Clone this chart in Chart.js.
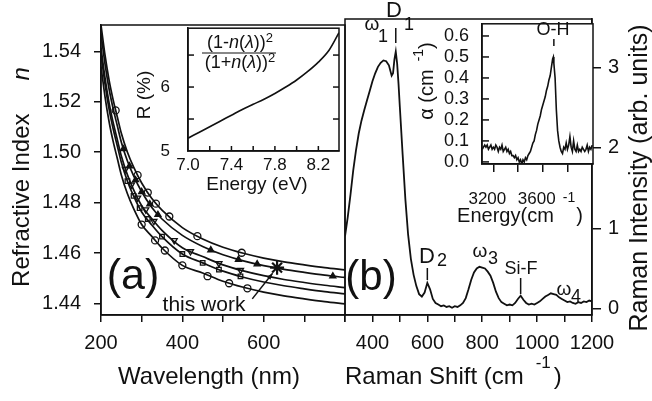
<!DOCTYPE html>
<html>
<head>
<meta charset="utf-8">
<script src="https://cdn.jsdelivr.net/npm/chart.js@4.4.1/dist/chart.umd.min.js"></script>
<style>
  html, body { margin: 0; padding: 0; background: #fff; }
  #wrap { position: relative; width: 652px; height: 401px; }
  canvas { position: absolute; left: 0; top: 0; }
</style>
</head>
<body>
<div id="wrap">
  <canvas id="panelA" width="652" height="401"></canvas>
  <canvas id="panelB" width="652" height="401"></canvas>
  <canvas id="insetA" width="652" height="401"></canvas>
  <canvas id="insetB" width="652" height="401"></canvas>
</div>
<script>
// ---- panel (a): refractive index vs wavelength ----
const wavelength = [200, 210, 220, 230, 240, 250, 265, 280, 300, 325, 350, 400, 450, 500, 550, 600, 650, 700, 750, 800];
const nCurve1 = [1.5505, 1.5384, 1.5285, 1.5207, 1.5141, 1.5075, 1.5000, 1.4942, 1.4878, 1.4816, 1.4770, 1.4701, 1.4656, 1.4623, 1.4599, 1.4580, 1.4565, 1.4553, 1.4542, 1.4533];
const nCurve2 = [1.5470, 1.5349, 1.5250, 1.5172, 1.5106, 1.5040, 1.4965, 1.4907, 1.4843, 1.4781, 1.4735, 1.4670, 1.4626, 1.4593, 1.4569, 1.4550, 1.4535, 1.4523, 1.4512, 1.4503];
const nCurve3 = [1.5415, 1.5294, 1.5195, 1.5117, 1.5051, 1.4985, 1.4910, 1.4852, 1.4788, 1.4736, 1.4690, 1.4621, 1.4586, 1.4553, 1.4529, 1.4510, 1.4495, 1.4483, 1.4472, 1.4463];
const nCurve4 = [1.5390, 1.5269, 1.5170, 1.5092, 1.5026, 1.4960, 1.4885, 1.4827, 1.4763, 1.4711, 1.4665, 1.4596, 1.4561, 1.4528, 1.4504, 1.4485, 1.4470, 1.4458, 1.4447, 1.4438];
const nCurve5 = [1.5340, 1.5219, 1.5120, 1.5042, 1.4976, 1.4910, 1.4835, 1.4777, 1.4713, 1.4666, 1.4620, 1.4551, 1.4521, 1.4488, 1.4464, 1.4445, 1.4430, 1.4418, 1.4407, 1.4398];

const circleTopWl = [236, 290, 315, 335, 368, 437, 546];
const circleTopN = [1.5166, 1.4909, 1.4840, 1.4796, 1.4745, 1.4667, 1.4601];
const triUpWl = [255, 270, 285, 300, 320, 340, 470, 538, 584, 770];
const triUpN = [1.5013, 1.4945, 1.4890, 1.4843, 1.4794, 1.4752, 1.4612, 1.4574, 1.4556, 1.4508];
const triDownWl = [260, 275, 290, 310, 330, 380, 420, 490, 543];
const triDownN = [1.4933, 1.4871, 1.4819, 1.4772, 1.4726, 1.4650, 1.4606, 1.4559, 1.4532];
const squareWl = [265, 280, 295, 315, 350, 400, 450, 490, 543];
const squareN = [1.4885, 1.4827, 1.4778, 1.4735, 1.4665, 1.4596, 1.4561, 1.4534, 1.4507];
const circleLowWl = [300, 333, 357, 400, 462, 515, 560];
const circleLowN = [1.4713, 1.4650, 1.4610, 1.4551, 1.4508, 1.4480, 1.4460];
const thisWorkWl = [633];
const thisWorkN = [1.4542];
const arrowFrom = [572, 1.4418];
const arrowTo = [622, 1.4520];

const wlTicks = [200, 300, 400, 500, 600, 700, 800];
const wlLabels = [200, 400, 600];
const nTicks = [1.44, 1.46, 1.48, 1.50, 1.52, 1.54];

// ---- inset (a): reflectance ----
const energyEv = [7.0, 7.1, 7.2, 7.3, 7.4, 7.5, 7.6, 7.7, 7.8, 7.9, 8.0, 8.1, 8.2, 8.3, 8.39];
const reflect = [5.20, 5.29, 5.38, 5.47, 5.56, 5.65, 5.73, 5.81, 5.90, 6.00, 6.11, 6.24, 6.39, 6.58, 6.85];
const evTicks = [7.0, 7.2, 7.4, 7.6, 7.8, 8.0, 8.2];
const evLabels = [7.0, 7.4, 7.8, 8.2];
const rTicks = [5, 5.5, 6, 6.5];
const rLabels = [5, 6];

// ---- panel (b): Raman spectrum ----
const ramanShift = [300, 310, 320, 330, 340, 350, 360, 370, 380, 390, 400, 410, 420, 430, 440, 450, 460, 470, 475, 480, 485, 490, 495, 500,
  510, 520, 530, 540, 550, 560, 570, 580, 590, 600, 610, 620, 630, 640, 650, 660, 670, 680, 690, 700, 710, 720, 730, 740, 750,
  760, 770, 780, 790, 800, 810, 820, 830, 840, 850, 860, 870, 880, 890, 900, 910, 920, 930, 940, 950, 960, 970, 980, 990, 1000,
  1010, 1020, 1030, 1040, 1050, 1060, 1070, 1080, 1090, 1100, 1110, 1120, 1130, 1140, 1150, 1160, 1170, 1180, 1190, 1200];
const ramanIntensity = [0.90, 1.14, 1.42, 1.72, 1.97, 2.18, 2.34, 2.47, 2.59, 2.71, 2.83, 2.93, 3.01, 3.06, 3.09, 3.08, 3.03, 2.90, 2.93, 3.10, 3.20, 3.05, 2.80, 2.50,
  1.92, 1.36, 0.92, 0.62, 0.42, 0.28, 0.18, 0.15, 0.20, 0.32, 0.24, 0.12, 0.07, 0.05, 0.03, 0.04, 0.02, 0.03, 0.01, 0.03, 0.02, 0.04, 0.07, 0.13, 0.24,
  0.36, 0.45, 0.50, 0.52, 0.51, 0.50, 0.46, 0.41, 0.32, 0.21, 0.13, 0.08, 0.06, 0.04, 0.05, 0.04, 0.07, 0.12, 0.16, 0.11, 0.07, 0.05, 0.06, 0.05, 0.07,
  0.09, 0.12, 0.15, 0.17, 0.19, 0.18, 0.17, 0.14, 0.12, 0.10, 0.08, 0.09, 0.07, 0.06, 0.08, 0.07, 0.09, 0.08, 0.10, 0.09];
const shiftTicks = [300, 400, 500, 600, 700, 800, 900, 1000, 1100, 1200];
const shiftLabels = [400, 600, 800, 1000, 1200];
const intensityTicks = [0, 1, 2, 3];
const peakMarks = [{ shift: 485, top: 28, bottom: 43 }, { shift: 600, top: 268, bottom: 280 }, { shift: 940, top: 278, bottom: 294 }];

// ---- inset (b): O-H absorption ----
const waveNumber = [3110, 3120, 3130, 3140, 3150, 3160, 3170, 3180, 3190, 3200, 3210, 3220, 3230, 3240, 3250, 3260, 3270, 3280, 3290, 3300,
  3310, 3320, 3330, 3340, 3350, 3360, 3370, 3380, 3390, 3400, 3410, 3420, 3430, 3440, 3450, 3460, 3470, 3480, 3490, 3500,
  3510, 3520, 3530, 3540, 3550, 3560, 3570, 3580, 3590, 3600, 3610, 3620, 3630, 3640, 3650, 3660, 3670, 3680, 3686, 3690, 3700,
  3710, 3720, 3730, 3740, 3750, 3760, 3770, 3780, 3790, 3800, 3810, 3820, 3830, 3840, 3850, 3860, 3870, 3880, 3890, 3900,
  3910, 3920, 3930, 3940, 3950, 3960, 3970, 3980, 3990, 4000];
const absorption = [0.06, 0.07, 0.08, 0.07, 0.08, 0.06, 0.07, 0.08, 0.06, 0.07, 0.06, 0.08, 0.07, 0.05, 0.07, 0.06, 0.08, 0.05, 0.06, 0.07,
  0.05, 0.06, 0.04, 0.05, 0.03, 0.03, 0.02, 0.03, 0.01, 0.02, 0.00, 0.01, -0.01, 0.01, 0.00, 0.02, 0.01, 0.03, 0.04, 0.05,
  0.07, 0.09, 0.10, 0.13, 0.15, 0.18, 0.20, 0.22, 0.25, 0.27, 0.29, 0.31, 0.34, 0.36, 0.39, 0.41, 0.45, 0.49, 0.50, 0.47, 0.40,
  0.25, 0.15, 0.10, 0.07, 0.05, 0.04, 0.07, 0.06, 0.09, 0.06, 0.08, 0.12, 0.07, 0.05, 0.10, 0.06, 0.05, 0.08, 0.05, 0.06,
  0.05, 0.07, 0.06, 0.05, 0.06, 0.08, 0.05, 0.07, 0.06, 0.08];
const wnTicks = [3200, 3400, 3600, 3800];
const wnLabels = [3200, 3600];
const alphaTicks = [0, 0.1, 0.2, 0.3, 0.4, 0.5, 0.6];

// ---- helpers ----
const INK = '#111';
const FAMILY = '"Liberation Sans", Arial, Helvetica, sans-serif';
const fnt = (size, style) => `${style || ''} ${size}px ${FAMILY}`.trim();
const R = (t, size, style, dy) => ({ t, f: fnt(size, style), dy: dy || 0 });
const GAP = w => ({ gap: w });
const pts = (xs, ys) => xs.map((x, i) => ({ x, y: ys[i] }));

function drawRuns(ctx, it) {
  ctx.save();
  ctx.translate(it.x, it.y);
  if (it.rot) ctx.rotate(it.rot);
  ctx.fillStyle = INK;
  ctx.textBaseline = 'middle';
  ctx.textAlign = 'left';
  let total = 0;
  it.runs.forEach(r => {
    if (r.t) { ctx.font = r.f; r.w = ctx.measureText(r.t).width; } else r.w = r.gap;
    total += r.w;
  });
  let x = it.align === 'left' ? 0 : -total / 2;
  it.runs.forEach(r => {
    if (r.t) { ctx.font = r.f; ctx.fillText(r.t, x, r.dy); }
    x += r.w;
  });
  ctx.restore();
}

const textPlugin = items => ({
  id: 'texts',
  afterDraw(chart) { items.forEach(it => drawRuns(chart.ctx, it)); }
});

const framePlugin = fill => ({
  id: 'frame',
  beforeDraw(chart) {
    if (!fill) return;
    const a = chart.chartArea;
    chart.ctx.save();
    chart.ctx.fillStyle = '#fff';
    chart.ctx.fillRect(a.left, a.top, a.right - a.left, a.bottom - a.top);
    chart.ctx.restore();
  },
  afterDraw(chart) {
    const a = chart.chartArea, ctx = chart.ctx;
    ctx.save();
    ctx.strokeStyle = INK;
    ctx.lineWidth = 1.5;
    ctx.strokeRect(a.left, a.top, a.right - a.left, a.bottom - a.top);
    ctx.restore();
  }
});

const inwardTicks = specs => ({
  id: 'inwardTicks',
  afterDraw(chart) {
    const { ctx, chartArea: a, scales } = chart;
    ctx.save();
    ctx.strokeStyle = INK;
    ctx.lineWidth = 1.5;
    specs.forEach(sp => {
      const sc = scales[sp.axis];
      sp.values.forEach(v => {
        const p = sc.getPixelForValue(v);
        ctx.beginPath();
        if (sp.side === 'left') { ctx.moveTo(a.left, p); ctx.lineTo(a.left + sp.len, p); }
        if (sp.side === 'right') { ctx.moveTo(a.right, p); ctx.lineTo(a.right - sp.len, p); }
        if (sp.side === 'bottom') { ctx.moveTo(p, a.bottom); ctx.lineTo(p, a.bottom - sp.len); }
        ctx.stroke();
      });
    });
    ctx.restore();
  }
});

function axis(opts) {
  return {
    type: 'linear',
    min: opts.min, max: opts.max,
    position: opts.position,
    afterFit: s => { if (opts.width != null) s.width = opts.width; if (opts.height != null) s.height = opts.height; },
    afterBuildTicks: s => { s.ticks = opts.ticks.map(v => ({ value: v })); },
    ticks: {
      autoSkip: false, maxRotation: 0, color: INK,
      padding: opts.padding, labelOffset: opts.labelOffset || 0,
      font: { family: FAMILY, size: opts.fontSize },
      callback: v => opts.labels.includes(v) ? opts.fmt(v) : ''
    },
    grid: { display: true, drawOnChartArea: false, drawTicks: opts.tickLength > 0, tickLength: opts.tickLength, color: INK, lineWidth: 1.5 },
    border: { display: true, color: INK, width: 1.5 }
  };
}

const lineSet = (xs, ys, w, smooth) => ({
  data: pts(xs, ys), borderColor: INK, borderWidth: w, pointRadius: 0,
  cubicInterpolationMode: smooth ? 'monotone' : 'default', tension: 0, fill: false
});
const markSet = (xs, ys, style, filled, radius, rot) => ({
  data: pts(xs, ys), showLine: false, pointStyle: style, pointRadius: radius,
  pointRotation: rot || 0, pointBorderColor: INK, pointBorderWidth: 1.3,
  pointBackgroundColor: filled ? INK : 'rgba(255,255,255,0)'
});

const base = padding => ({
  responsive: false, animation: false, devicePixelRatio: 1,
  layout: { padding },
  plugins: { legend: { display: false }, tooltip: { enabled: false } }
});

// ---- panel (a) ----
const arrowPlugin = {
  id: 'arrow',
  afterDraw(chart) {
    const { ctx, scales: { x, y } } = chart;
    const x1 = x.getPixelForValue(arrowFrom[0]), y1 = y.getPixelForValue(arrowFrom[1]);
    const x2 = x.getPixelForValue(arrowTo[0]), y2 = y.getPixelForValue(arrowTo[1]);
    const ang = Math.atan2(y2 - y1, x2 - x1);
    ctx.save();
    ctx.strokeStyle = INK; ctx.fillStyle = INK; ctx.lineWidth = 1.5;
    ctx.beginPath(); ctx.moveTo(x1, y1); ctx.lineTo(x2, y2); ctx.stroke();
    ctx.beginPath();
    ctx.moveTo(x2, y2);
    ctx.lineTo(x2 - 7 * Math.cos(ang - 0.35), y2 - 7 * Math.sin(ang - 0.35));
    ctx.lineTo(x2 - 7 * Math.cos(ang + 0.35), y2 - 7 * Math.sin(ang + 0.35));
    ctx.closePath(); ctx.fill();
    ctx.restore();
  }
};

new Chart(document.getElementById('panelA'), {
  type: 'line',
  data: {
    datasets: [
      lineSet(wavelength, nCurve1, 1.7, true),
      lineSet(wavelength, nCurve2, 1.7, true),
      lineSet(wavelength, nCurve3, 1.7, true),
      lineSet(wavelength, nCurve4, 1.7, true),
      lineSet(wavelength, nCurve5, 1.7, true),
      markSet(circleTopWl, circleTopN, 'circle', false, 3.5),
      markSet(triUpWl, triUpN, 'triangle', true, 3.5),
      markSet(triDownWl, triDownN, 'triangle', false, 3.5, 180),
      markSet(squareWl, squareN, 'rect', false, 3.2),
      markSet(circleLowWl, circleLowN, 'circle', false, 3.5),
      { data: pts(thisWorkWl, thisWorkN), showLine: false, pointStyle: 'star', pointRadius: 7, pointBorderColor: INK, pointBorderWidth: 2.2 }
    ]
  },
  options: Object.assign(base({ left: 0, top: 9, right: 307, bottom: 0 }), {
    scales: {
      x: axis({ min: 200, max: 800, height: 86, ticks: wlTicks, labels: wlLabels, fmt: v => String(v), fontSize: 20, padding: 9, tickLength: 7 }),
      y: axis({ min: 1.4354, max: 1.5505, position: 'left', width: 101, ticks: nTicks, labels: nTicks, fmt: v => v.toFixed(2), fontSize: 20, padding: 13, tickLength: 7 })
    }
  }),
  plugins: [framePlugin(false), arrowPlugin, textPlugin([
    { runs: [R('Refractive Index', 24), GAP(33), R('n', 24, 'italic')], x: 22, y: 177, rot: -Math.PI / 2 },
    { runs: [R('Wavelength (nm)', 24)], x: 209, y: 377 },
    { runs: [R('(a)', 43)], x: 133, y: 277 },
    { runs: [R('this work', 21)], x: 204, y: 305 }
  ])]
});

// ---- panel (b) ----
const peakPlugin = {
  id: 'peaks',
  afterDraw(chart) {
    const { ctx, scales: { x } } = chart;
    ctx.save();
    ctx.strokeStyle = INK; ctx.lineWidth = 1.5;
    peakMarks.forEach(m => {
      const px = x.getPixelForValue(m.shift);
      ctx.beginPath(); ctx.moveTo(px, m.top); ctx.lineTo(px, m.bottom); ctx.stroke();
    });
    ctx.restore();
  }
};

new Chart(document.getElementById('panelB'), {
  type: 'line',
  data: { datasets: [lineSet(ramanShift, ramanIntensity, 1.8, false)] },
  options: Object.assign(base({ left: 345, top: 9, right: 0, bottom: 0 }), {
    scales: {
      x: axis({ min: 300, max: 1200, height: 86, ticks: shiftTicks, labels: shiftLabels, fmt: v => String(v), fontSize: 20, padding: 9, tickLength: 7 }),
      y: axis({ min: -0.08, max: 3.606, position: 'right', width: 60, ticks: intensityTicks, labels: intensityTicks, fmt: v => String(v), fontSize: 20, padding: 7, tickLength: 9 })
    }
  }),
  plugins: [framePlugin(false), peakPlugin, textPlugin([
    { runs: [R('Raman Shift (cm', 24), GAP(12), R('-1', 17, '', -14), GAP(3), R(')', 24)], x: 345, y: 377, align: 'left' },
    { runs: [R('Raman Intensity (arb. units)', 25)], x: 640, y: 178, rot: -Math.PI / 2 },
    { runs: [R('(b)', 42)], x: 371, y: 278 },
    { runs: [R('ω', 19)], x: 372, y: 25 }, { runs: [R('1', 18)], x: 383, y: 37 },
    { runs: [R('D', 22)], x: 394, y: 11 }, { runs: [R('1', 18)], x: 409, y: 25 },
    { runs: [R('D', 22)], x: 427, y: 257 }, { runs: [R('2', 18)], x: 442, y: 261 },
    { runs: [R('ω', 19)], x: 480, y: 252 }, { runs: [R('3', 18)], x: 493, y: 259 },
    { runs: [R('Si-F', 18)], x: 521, y: 269 },
    { runs: [R('ω', 19)], x: 564, y: 290 }, { runs: [R('4', 18)], x: 576, y: 297 }
  ])]
});

// ---- inset (a) ----
const fractionLine = {
  id: 'fractionLine',
  afterDraw(chart) {
    const ctx = chart.ctx;
    ctx.save(); ctx.strokeStyle = INK; ctx.lineWidth = 1.2;
    ctx.beginPath(); ctx.moveTo(202, 53); ctx.lineTo(276, 53); ctx.stroke();
    ctx.restore();
  }
};

new Chart(document.getElementById('insetA'), {
  type: 'line',
  data: { datasets: [lineSet(energyEv, reflect, 1.6, true)] },
  options: Object.assign(base({ left: 148, top: 15, right: 313, bottom: 0 }), {
    scales: {
      x: axis({ min: 7.0, max: 8.39, height: 250, ticks: evTicks, labels: evLabels, fmt: v => v.toFixed(1), fontSize: 17, padding: 4, tickLength: 0 }),
      y: axis({ min: 5, max: 6.92, position: 'left', width: 40, ticks: rTicks, labels: rLabels, fmt: v => String(v), fontSize: 17, padding: 18, tickLength: 0 })
    }
  }),
  plugins: [framePlugin(true), fractionLine,
    inwardTicks([
      { axis: 'y', side: 'left', values: [5.5, 6, 6.5], len: 6 },
      { axis: 'y', side: 'right', values: [5.5, 6, 6.5], len: 6 },
      { axis: 'x', side: 'bottom', values: [7.2, 7.4, 7.6, 7.8, 8.0, 8.2], len: 5 }
    ]),
    textPlugin([
      { runs: [R('R (%)', 19)], x: 145, y: 95, rot: -Math.PI / 2 },
      { runs: [R('Energy (eV)', 19)], x: 257, y: 185 },
      { runs: [R('(1-', 18), R('n', 18, 'italic'), R('(', 18), R('λ', 18, 'italic'), R('))', 18), R('2', 13, '', -5)], x: 240, y: 43 },
      { runs: [R('(1+', 18), R('n', 18, 'italic'), R('(', 18), R('λ', 18, 'italic'), R('))', 18), R('2', 13, '', -5)], x: 240, y: 63 }
    ])]
});

// ---- inset (b) ----
const ohMark = {
  id: 'ohMark',
  afterDraw(chart) {
    const { ctx, scales: { x } } = chart;
    const px = x.getPixelForValue(3690);
    ctx.save(); ctx.strokeStyle = INK; ctx.lineWidth = 1.5;
    ctx.beginPath(); ctx.moveTo(px, 39); ctx.lineTo(px, 46); ctx.stroke();
    ctx.restore();
  }
};

new Chart(document.getElementById('insetB'), {
  type: 'line',
  data: { datasets: [lineSet(waveNumber, absorption, 1.6, false)] },
  options: Object.assign(base({ left: 422, top: 10, right: 59, bottom: 0 }), {
    scales: {
      x: axis({ min: 3108, max: 4007, height: 237, ticks: wnTicks, labels: wnLabels, fmt: v => String(v), fontSize: 17, padding: 17, tickLength: 8, labelOffset: -6 }),
      y: axis({ min: -0.01, max: 0.658, position: 'left', width: 60, ticks: alphaTicks, labels: alphaTicks, fmt: v => v.toFixed(1), fontSize: 18, padding: 13, tickLength: 0 })
    }
  }),
  plugins: [framePlugin(true), ohMark,
    inwardTicks([{ axis: 'y', side: 'left', values: alphaTicks, len: 7 }]),
    textPlugin([
      { runs: [R('α (cm', 20), GAP(8), R('-1', 14, '', -8), R(')', 20)], x: 427, y: 81, rot: -Math.PI / 2 },
      { runs: [R('Energy(cm', 20), GAP(9), R('-1', 14, '', -18), GAP(1), R(')', 20)], x: 520, y: 216 },
      { runs: [R('O-H', 18)], x: 553, y: 30 }
    ])]
});
</script>
</body>
</html>
